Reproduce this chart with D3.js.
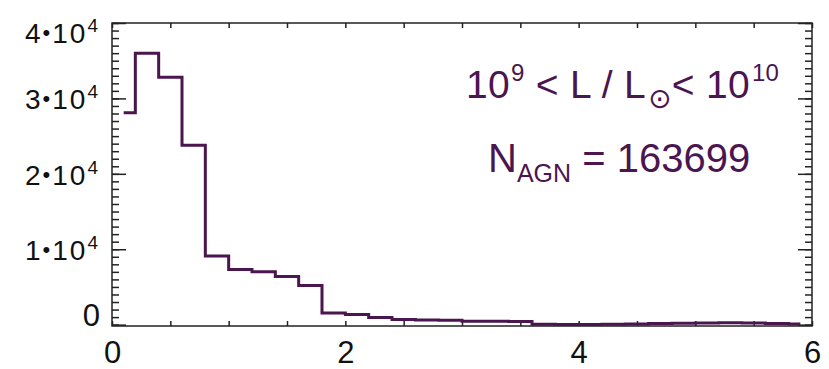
<!DOCTYPE html>
<html>
<head>
<meta charset="utf-8">
<script src="https://cdn.jsdelivr.net/npm/d3@7"></script>
<style>
  body { margin: 0; background: #fff; }
  svg { display: block; font-family: "Liberation Sans", Arial, Helvetica, sans-serif; }
</style>
</head>
<body>
<div id="chart"></div>
<script>
// histogram bin centres (bins 0.2 wide) and counts
var binCenters = [0.1, 0.3, 0.5, 0.7, 0.9, 1.1, 1.3, 1.5, 1.7, 1.9,
                  2.1, 2.3, 2.5, 2.7, 2.9, 3.1, 3.3, 3.5, 3.7, 3.9,
                  4.1, 4.3, 4.5, 4.7, 4.9, 5.1, 5.3, 5.5, 5.7, 5.9];
var counts = [28100, 36000, 32800, 23800, 9100, 7300, 7000, 6400, 5200, 1550,
              1350, 950, 680, 620, 580, 460, 440, 420, 60, 30,
              30, 50, 100, 150, 200, 230, 240, 210, 160, 80];

var xLabelTicks = [0, 2, 4, 6];
var yMajorTicks = [0, 10000, 20000, 30000, 40000];
var yLabelMant = ["0", "1", "2", "3", "4"];
var annoLine1 = ["10", "9", " < L / L", "\u2299", "< 10", "10"];
var annoLine2 = ["N", "AGN", " = 163699"];

var W = 829, H = 369;
var margin = {top: 23, right: 17, bottom: 43, left: 112};
var purple = "#4b1550";

var svg = d3.select("#chart").append("svg")
  .attr("width", W)
  .attr("height", H);

var x = d3.scaleLinear().domain([0, 6]).range([margin.left, W - margin.right]);
var y = d3.scaleLinear().domain([-180, 40000]).range([H - margin.bottom, margin.top]);

var minorY = d3.range(0, 40001, 1000);
var xTicks = d3.range(0, 6.01, 0.5);

// bottom axis (ticks every 0.5, labels on even integers)
var gb = svg.append("g")
  .attr("transform", "translate(0," + y.range()[0] + ")")
  .call(d3.axisBottom(x).tickValues(xTicks).tickSize(-5).tickPadding(15)
    .tickFormat(function(d) { return xLabelTicks.indexOf(d) > -1 ? d3.format("d")(d) : ""; }));
gb.selectAll("text").style("font-size", "31px").attr("fill", "#111");

svg.append("g")
  .attr("transform", "translate(0," + y.range()[1] + ")")
  .call(d3.axisTop(x).tickValues(xTicks).tickSize(-5).tickFormat(""));

// left and right axes: minor + major ticks
svg.append("g")
  .attr("transform", "translate(" + x.range()[0] + ",0)")
  .call(d3.axisLeft(y).tickValues(minorY).tickSize(-7).tickFormat(""));
svg.append("g")
  .attr("transform", "translate(" + x.range()[0] + ",0)")
  .call(d3.axisLeft(y).tickValues(yMajorTicks).tickSize(-14).tickFormat(""));
svg.append("g")
  .attr("transform", "translate(" + x.range()[1] + ",0)")
  .call(d3.axisRight(y).tickValues(minorY).tickSize(-7).tickFormat(""));
svg.append("g")
  .attr("transform", "translate(" + x.range()[1] + ",0)")
  .call(d3.axisRight(y).tickValues(yMajorTicks).tickSize(-14).tickFormat(""));

svg.selectAll(".domain").remove();
svg.selectAll(".tick line").attr("stroke", "#222").attr("stroke-width", 1.5);

// plot frame
svg.append("rect")
  .attr("x", x.range()[0])
  .attr("y", y.range()[1])
  .attr("width", x.range()[1] - x.range()[0])
  .attr("height", y.range()[0] - y.range()[1])
  .attr("fill", "none")
  .attr("stroke", "#222")
  .attr("stroke-width", 1.5);

// y tick labels like 3•10^4
yMajorTicks.forEach(function(v, i) {
  var t = svg.append("text")
    .attr("x", x.range()[0] - 12)
    .attr("text-anchor", "end")
    .attr("fill", "#111");
  if (v === 0) {
    t.attr("y", y(v) + 1).style("font-size", "31px").text(yLabelMant[i]);
    return;
  }
  var base = y(v) + 11;
  if (i === yMajorTicks.length - 1) base = y(v) + 20;
  t.attr("y", base).style("font-size", "28px").style("letter-spacing", "2px");
  t.append("tspan").text(yLabelMant[i]);
  t.append("tspan").style("font-size", "22px").attr("dy", -3).text("\u2022");
  t.append("tspan").attr("dy", 3).text("10");
  t.append("tspan").style("font-size", "19px").attr("dx", 0).attr("dy", -11).text("4");
});

// histogram line
var line = d3.line()
  .x(function(d, i) { return x(binCenters[i]); })
  .y(function(d) { return y(d); })
  .curve(d3.curveStep);

svg.append("path")
  .datum(counts)
  .attr("d", line)
  .attr("fill", "none")
  .attr("stroke", purple)
  .attr("stroke-width", 3);

// annotation
var a1 = svg.append("text")
  .attr("x", 466).attr("y", 98)
  .attr("fill", purple)
  .style("font-size", "39px")
  .style("letter-spacing", "0.3px");
a1.append("tspan").text(annoLine1[0]);
a1.append("tspan").style("font-size", "24px").attr("dx", 1).attr("dy", -17).text(annoLine1[1]);
a1.append("tspan").attr("dy", 17).text(annoLine1[2]);
a1.append("tspan").style("font-size", "28px").style("font-family", "DejaVu Sans")
  .attr("dx", 2).attr("dy", 10).text(annoLine1[3]);
a1.append("tspan").attr("dy", -10).text(annoLine1[4]);
a1.append("tspan").style("font-size", "24px").attr("dx", 2).attr("dy", -17).text(annoLine1[5]);

var a2 = svg.append("text")
  .attr("x", 488).attr("y", 172)
  .attr("fill", purple)
  .style("font-size", "40px");
a2.append("tspan").text(annoLine2[0]);
a2.append("tspan").style("font-size", "25px").attr("dy", 10).text(annoLine2[1]);
a2.append("tspan").attr("dy", -10).text(annoLine2[2]);
</script>
</body>
</html>
